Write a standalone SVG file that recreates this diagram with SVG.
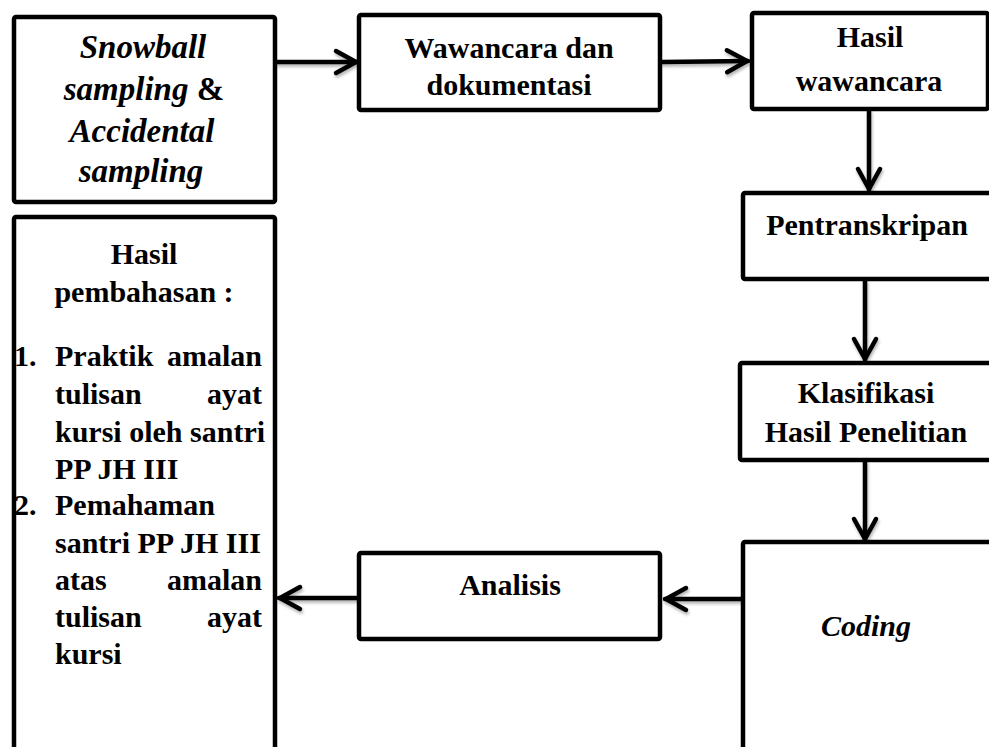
<svg xmlns="http://www.w3.org/2000/svg" width="989" height="747" viewBox="0 0 989 747">
<defs>
<style>
.box{fill:#fff;stroke:#000;stroke-width:4.5;stroke-linejoin:round}
.t{font-family:"Liberation Serif","Times New Roman",serif;font-weight:bold;font-size:30px;fill:#000}
.i{font-style:italic}
.c{text-anchor:middle}
.r{text-anchor:end}
.edge{fill:none;stroke:#000;stroke-width:4.5;stroke-linecap:round}
</style>
<marker id="arr" markerUnits="userSpaceOnUse" markerWidth="34" markerHeight="34" viewBox="-28 -17 34 34" refX="0" refY="0" orient="auto">
<path d="M-21,-11 L-1,0 L-21,11" fill="none" stroke="#000" stroke-width="4.5" stroke-linecap="round" stroke-linejoin="round"/>
</marker>
<filter id="sh" x="-20%" y="-50%" width="140%" height="200%">
<feDropShadow dx="1" dy="2.5" stdDeviation="1.5" flood-color="#000" flood-opacity="0.3"/>
</filter>
</defs>
<rect width="989" height="747" fill="#fff"/>

<g id="connectors" filter="url(#sh)">
<line class="edge" x1="277" y1="62" x2="357" y2="62" marker-end="url(#arr)"/>
<line class="edge" x1="662" y1="62" x2="748" y2="61" marker-end="url(#arr)"/>
<line class="edge" x1="869" y1="111" x2="869" y2="190" marker-end="url(#arr)"/>
<line class="edge" x1="865" y1="281" x2="865" y2="360" marker-end="url(#arr)"/>
<line class="edge" x1="865" y1="462" x2="865" y2="540" marker-end="url(#arr)"/>
<line class="edge" x1="741" y1="599" x2="665" y2="599" marker-end="url(#arr)"/>
<line class="edge" x1="357" y1="598" x2="279" y2="598" marker-end="url(#arr)"/>
</g>

<g id="n-sampling">
<rect class="box" x="14" y="17" width="261" height="185" rx="2"/>
<text class="t i c" style="font-size:33px" x="143" y="58">Snowball</text>
<text class="t c" style="font-size:33px" x="144" y="100"><tspan class="i">sampling</tspan> &amp;</text>
<text class="t i c" style="font-size:33px" x="142" y="142">Accidental</text>
<text class="t i c" style="font-size:33px" x="141" y="182">sampling</text>
</g>

<g id="n-wawancara">
<rect class="box" x="359" y="15" width="301" height="95" rx="2"/>
<text class="t c" x="509" y="58">Wawancara dan</text>
<text class="t c" x="509" y="95">dokumentasi</text>
</g>

<g id="n-hasil-wawancara">
<rect class="box" x="752" y="13" width="236" height="96" rx="2"/>
<text class="t c" x="870" y="47">Hasil</text>
<text class="t c" x="869" y="91">wawancara</text>
</g>

<g id="n-pentranskripan">
<rect class="box" x="743" y="193" width="270" height="86" rx="2"/>
<text class="t c" x="867" y="235">Pentranskripan</text>
</g>

<g id="n-klasifikasi">
<rect class="box" x="740" y="363" width="270" height="97" rx="2"/>
<text class="t c" x="866" y="403">Klasifikasi</text>
<text class="t c" x="866" y="442">Hasil Penelitian</text>
</g>

<g id="n-coding">
<rect class="box" x="743" y="542" width="270" height="230" rx="2"/>
<text class="t i c" x="866" y="636">Coding</text>
</g>

<g id="n-analisis">
<rect class="box" x="359" y="553" width="301" height="86" rx="2"/>
<text class="t c" x="510" y="595">Analisis</text>
</g>

<g id="n-hasil-pembahasan">
<rect class="box" x="14" y="217" width="261" height="560" rx="2"/>
<text class="t c" x="144" y="264">Hasil</text>
<text class="t c" x="144" y="302">pembahasan :</text>
<text class="t" x="14" y="366">1.</text>
<text class="t" x="55" y="366">Praktik</text>
<text class="t r" x="262" y="366">amalan</text>
<text class="t" x="55" y="404">tulisan</text>
<text class="t r" x="262" y="404">ayat</text>
<text class="t" x="55" y="442">kursi oleh santri</text>
<text class="t" x="55" y="479">PP JH III</text>
<text class="t" x="14" y="515">2.</text>
<text class="t" x="55" y="515">Pemahaman</text>
<text class="t" x="55" y="553">santri PP JH III</text>
<text class="t" x="55" y="590">atas</text>
<text class="t r" x="262" y="590">amalan</text>
<text class="t" x="55" y="627">tulisan</text>
<text class="t r" x="262" y="627">ayat</text>
<text class="t" x="55" y="664">kursi</text>
</g>
</svg>
